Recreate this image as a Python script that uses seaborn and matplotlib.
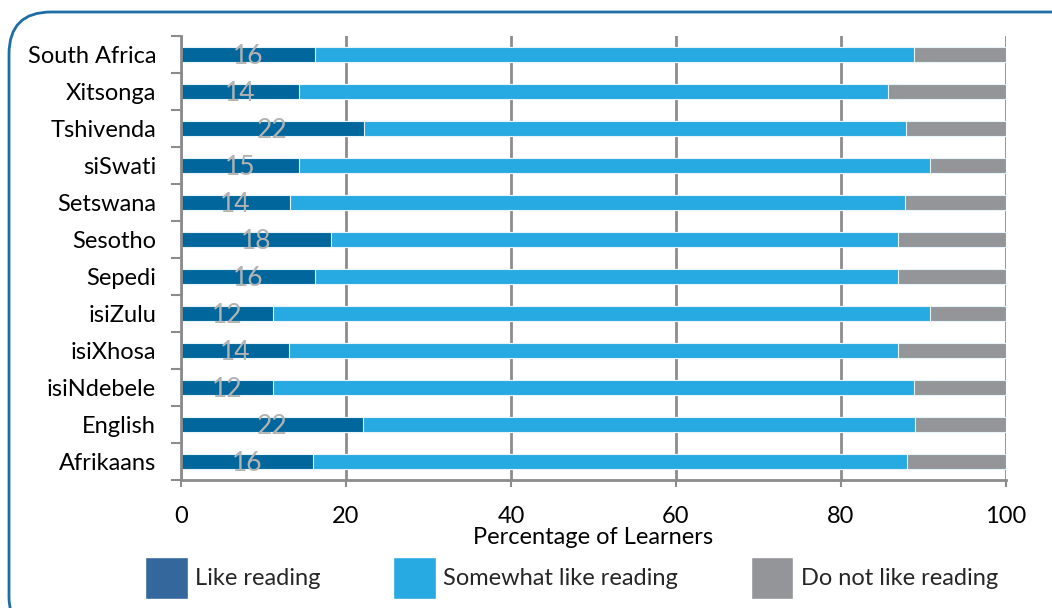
import matplotlib
matplotlib.use("Agg")
import matplotlib.pyplot as plt
import seaborn as sns
import pandas as pd
import numpy as np
from matplotlib.patches import Patch, FancyBboxPatch

categories = ["South Africa", "Xitsonga", "Tshivenda", "siSwati", "Setswana", "Sesotho",
              "Sepedi", "isiZulu", "isiXhosa", "isiNdebele", "English", "Afrikaans"]
like_reading = [16.2, 14.3, 22.2, 14.3, 13.2, 18.2, 16.2, 11.2, 13.1, 11.1, 22.0, 16.0]
somewhat_like = [72.6, 71.4, 65.7, 76.5, 74.6, 68.7, 70.7, 79.6, 73.8, 77.8, 67.0, 72.0]
do_not_like = [11.2, 14.3, 12.1, 9.2, 12.2, 13.1, 13.1, 9.2, 13.1, 11.1, 11.0, 12.0]
like_labels = ["16", "14", "22", "15", "14", "18", "16", "12", "14", "12", "22", "16"]
series_names = ["Like reading", "Somewhat like reading", "Do not like reading"]
xticks = [0, 20, 40, 60, 80, 100]

c_like = "#00669b"
c_some = "#27a9e1"
c_not = "#939598"
c_like_legend = "#34689c"

df = pd.DataFrame({"cat": categories, "like": like_reading,
                   "some": somewhat_like, "not": do_not_like})
df["cum2"] = df["like"] + df["some"]
df["cum3"] = df["cum2"] + df["not"]

sns.set_theme(style="white")
plt.rcParams["font.family"] = ["Lato", "DejaVu Sans"]

fig = plt.figure(figsize=(10.52, 6.08), dpi=100)
ax = fig.add_axes([181 / 1052, 1 - 480 / 608, (1006 - 181) / 1052, 444 / 608])

common = dict(data=df, y="cat", orient="y", width=0.42, edgecolor="#e8f4fb",
              linewidth=0.8, ax=ax, order=categories, saturation=1)
sns.barplot(x="cum3", color=c_not, **common)
sns.barplot(x="cum2", color=c_some, **common)
sns.barplot(x="like", color=c_like, **common)

for i, (v, lab) in enumerate(zip(like_reading, like_labels)):
    ax.text(v / 2, i + 0.06, lab, ha="center", va="center", color="#b3b3b3", fontsize=19)

ax.set_xlim(0, 100)
ax.set_ylim(len(categories) - 0.5, -0.5)
ax.set_xticks(xticks)
ax.set_xticklabels([str(t) for t in xticks], fontsize=17, color="black")
ax.set_yticks(range(len(categories)))
ax.set_yticklabels(categories, fontsize=17, color="black")
ax.set_yticks(np.arange(-0.5, len(categories), 1), minor=True)
ax.tick_params(axis="y", which="major", length=0, pad=18)
ax.tick_params(axis="y", which="minor", length=7, width=1.5, color="#8c8c8c", left=True)
ax.tick_params(axis="x", which="major", length=5, width=1.5, color="#8c8c8c", pad=14, bottom=True)
ax.set_xlabel("Percentage of Learners", fontsize=17, labelpad=0, color="black")
ax.set_ylabel("")

ax.grid(axis="x", color="#8c8c8c", linewidth=2)
ax.set_axisbelow(True)
for s in ["top", "right"]:
    ax.spines[s].set_visible(False)
for s in ["left", "bottom"]:
    ax.spines[s].set_color("#8c8c8c")
    ax.spines[s].set_linewidth(2)

handles = [Patch(facecolor=c_like_legend), Patch(facecolor=c_some), Patch(facecolor=c_not)]
fig.legend(handles, series_names, loc="center left", bbox_to_anchor=(145 / 1052, 1 - 578 / 608),
           ncol=3, frameon=False, fontsize=17, handlelength=1.8, handleheight=2.3,
           handletextpad=0.3, columnspacing=3.1, borderpad=0, borderaxespad=0)

frame = FancyBboxPatch((9 / 1052, -0.05), 1.05, 1 - 12 / 608 + 0.05,
                       boxstyle="round,pad=0,rounding_size=0.04", transform=fig.transFigure,
                       facecolor="none", edgecolor="#1d6ea6", linewidth=2, clip_on=False,
                       mutation_aspect=1052 / 608)
fig.patches.append(frame)

fig.savefig("out.png", dpi=100)
